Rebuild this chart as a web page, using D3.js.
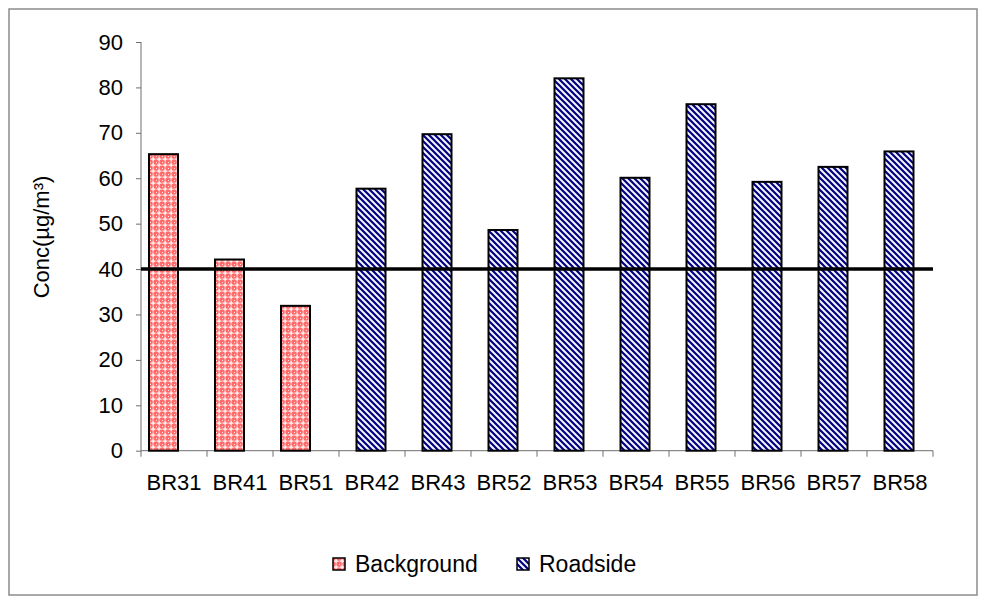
<!DOCTYPE html>
<html>
<head>
<meta charset="utf-8">
<script src="https://cdn.jsdelivr.net/npm/d3@7"></script>
<style>
  body { margin: 0; background: #fff; }
  svg text { font-family: "Liberation Sans", Arial, sans-serif; fill: #000; }
</style>
</head>
<body>
<svg id="chart" width="986" height="604"></svg>
<script>
// data
const categories = ["BR31", "BR41", "BR51", "BR42", "BR43", "BR52", "BR53", "BR54", "BR55", "BR56", "BR57", "BR58"];
const backgroundVals = [65.3, 42.1, 31.9, null, null, null, null, null, null, null, null, null];
const roadsideVals = [null, null, null, 57.7, 69.7, 48.6, 82.0, 60.1, 76.3, 59.2, 62.5, 65.9];
const yTicks = [0, 10, 20, 30, 40, 50, 60, 70, 80, 90];
const limitValue = 40;
const seriesNames = ["Background", "Roadside"];

let plotLeft = 141, plotRight = 933, plotTop = 42, plotBottom = 450.7;
let barWidth = 29;

let svg = d3.select("#chart");

// patronen voor de balken
let defs = svg.append("defs");
let pBg = defs.append("pattern")
    .attr("id", "patBg")
    .attr("patternUnits", "userSpaceOnUse")
    .attr("width", 6).attr("height", 6);
pBg.append("rect").attr("width", 6).attr("height", 6).attr("fill", "#ff6a6a");
pBg.append("rect").attr("x", 2.5).attr("y", 0.5).attr("width", 1.2).attr("height", 5).attr("fill", "#fff");
pBg.append("rect").attr("x", 0.5).attr("y", 2.5).attr("width", 5).attr("height", 1.2).attr("fill", "#fff");
pBg.append("rect").attr("x", 0).attr("y", 0).attr("width", 1).attr("height", 1).attr("fill", "#ffe0e0");

let pRs = defs.append("pattern")
    .attr("id", "patRs")
    .attr("patternUnits", "userSpaceOnUse")
    .attr("width", 6).attr("height", 6);
pRs.append("rect").attr("width", 6).attr("height", 6).attr("fill", "#f4f4fc");
pRs.append("path")
    .attr("d", "M-1,-1 L7,7 M-1,5 L1,7 M5,-1 L7,1")
    .attr("stroke", "#000080")
    .attr("stroke-width", 2.2);

// rand om de hele grafiek
svg.append("rect")
    .attr("x", 9).attr("y", 9)
    .attr("width", 968).attr("height", 586)
    .attr("fill", "none")
    .attr("stroke", "#8c8c8c")
    .attr("stroke-width", 1.5);

let x = d3.scaleBand().domain(categories).range([plotLeft, plotRight]).padding(0);
let y = d3.scaleLinear().domain([0, 90]).range([plotBottom, plotTop]);

// y-as
let yAxis = d3.axisLeft(y).tickValues(yTicks).tickSize(5).tickPadding(13);
let gy = svg.append("g").attr("transform", "translate(" + plotLeft + ",0)").call(yAxis);
gy.selectAll("path, line").attr("stroke", "#6e6e6e");
gy.selectAll("text").style("font-size", "22px");
gy.select(".domain").attr("d", "M0," + y(90) + "V" + y(0));

// x-as
let xAxis = d3.axisBottom(x).tickSize(6).tickPadding(18);
let gx = svg.append("g").attr("transform", "translate(0," + plotBottom + ")").call(xAxis);
gx.selectAll("path, line").attr("stroke", "#6e6e6e");
gx.selectAll("text").style("font-size", "22px");
// ticks tussen de categorieen
gx.selectAll(".tick line").attr("x1", -x.bandwidth() / 2).attr("x2", -x.bandwidth() / 2);
gx.append("line")
    .attr("x1", plotRight).attr("x2", plotRight)
    .attr("y1", 0).attr("y2", 6)
    .attr("stroke", "#6e6e6e");
gx.select(".domain").attr("d", "M" + plotLeft + ",0H" + plotRight);

// balken Background
let bgData = categories.map((c, i) => ({ cat: c, v: backgroundVals[i] })).filter(d => d.v != null);
svg.selectAll("rect.bg")
    .data(bgData)
    .enter()
    .append("rect")
    .attr("class", "bg")
    .attr("x", d => x(d.cat) + x.bandwidth() / 2 - 10.5 - barWidth / 2)
    .attr("y", d => y(d.v))
    .attr("width", barWidth)
    .attr("height", d => y(0) - y(d.v))
    .attr("fill", "url(#patBg)")
    .attr("stroke", "#000")
    .attr("stroke-width", 2);

// balken Roadside
let rsData = categories.map((c, i) => ({ cat: c, v: roadsideVals[i] })).filter(d => d.v != null);
svg.selectAll("rect.rs")
    .data(rsData)
    .enter()
    .append("rect")
    .attr("class", "rs")
    .attr("x", d => x(d.cat) + x.bandwidth() / 2 - 1 - barWidth / 2)
    .attr("y", d => y(d.v))
    .attr("width", barWidth)
    .attr("height", d => y(0) - y(d.v))
    .attr("fill", "url(#patRs)")
    .attr("stroke", "#000")
    .attr("stroke-width", 2);

// grenswaarde lijn
svg.append("line")
    .attr("x1", plotLeft).attr("x2", plotRight)
    .attr("y1", y(limitValue)).attr("y2", y(limitValue))
    .attr("stroke", "#000")
    .attr("stroke-width", 3.5);

// y-as titel
svg.append("text")
    .attr("transform", "translate(49," + 237 + ") rotate(-90)")
    .attr("text-anchor", "middle")
    .style("font-size", "22px")
    .text("Conc(µg/m³)");

// legenda
let legendX = [333, 517];
let legend = svg.selectAll("g.legend")
    .data(seriesNames)
    .enter()
    .append("g")
    .attr("class", "legend")
    .attr("transform", (d, i) => "translate(" + legendX[i] + ",558)");
legend.append("rect")
    .attr("width", 12).attr("height", 12)
    .attr("fill", (d, i) => i === 0 ? "url(#patBg)" : "url(#patRs)")
    .attr("stroke", "#000")
    .attr("stroke-width", 1.5);
legend.append("text")
    .attr("x", 22)
    .attr("y", 14)
    .style("font-size", "23px")
    .text(d => d);
</script>
</body>
</html>
